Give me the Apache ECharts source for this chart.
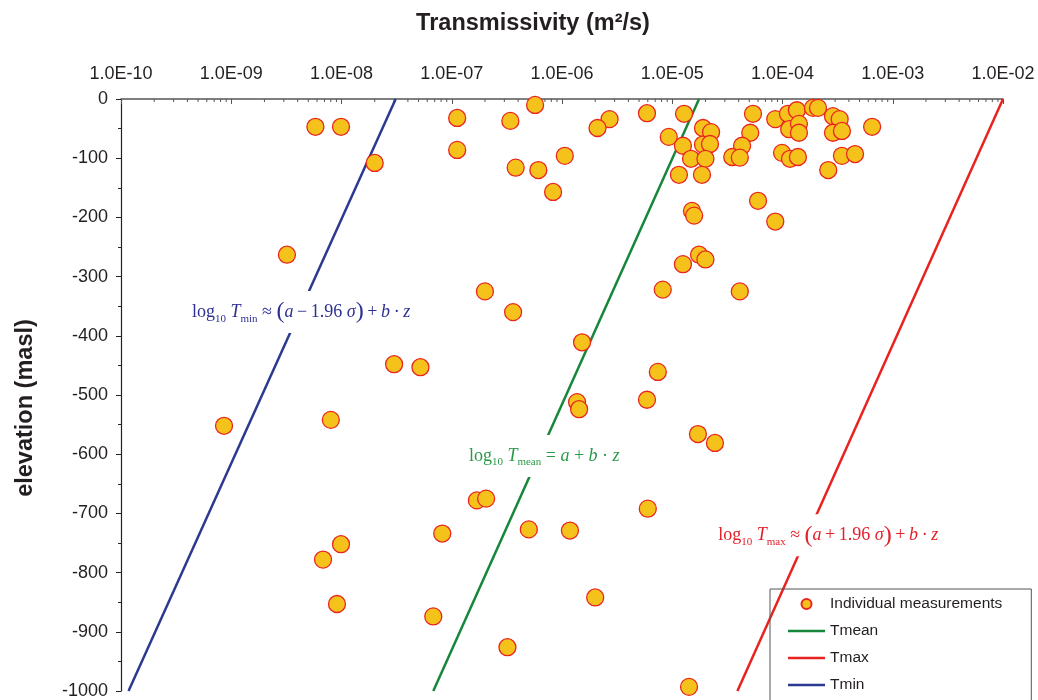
<!DOCTYPE html>
<html>
<head>
<meta charset="utf-8">
<title>Transmissivity vs elevation</title>
<script src="https://cdn.jsdelivr.net/npm/echarts@6/dist/echarts.min.js"></script>
<style>
  html, body { margin: 0; padding: 0; background: #fff; }
  #chart { width: 1038px; height: 700px; }
</style>
</head>
<body>
<div id="chart"></div>
<script>
// Individual measurements: transmissivity (m²/s) and elevation (masl)
const transmissivity = [
  5.8e-9, 9.9e-9, 2.0e-8, 3.2e-9, 1.12e-7, 1.12e-7, 3.4e-7, 5.7e-7, 3.8e-7, 6.1e-7,
  8.3e-7, 1.06e-6, 2.7e-6, 2.1e-6, 5.9e-6, 1.28e-5, 1.9e-5, 2.25e-5, 9.3e-6, 1.25e-5,
  1.9e-5, 2.2e-5, 1.48e-5, 2.0e-5, 1.15e-5, 1.86e-5, 5.4e-5, 8.6e-5, 5.1e-5, 4.3e-5,
  3.5e-5, 4.1e-5, 1.12e-4, 1.35e-4, 1.15e-4, 1.41e-4, 1.41e-4, 1.89e-4, 2.1e-4, 2.87e-4,
  3.3e-4, 2.87e-4, 3.46e-4, 6.5e-4, 9.9e-5, 1.17e-4, 1.38e-4, 3.46e-4, 4.55e-4, 2.6e-4,
  1.51e-5, 1.58e-5, 6.0e-5, 8.6e-5, 1.75e-5, 2.0e-5, 1.25e-5, 8.2e-6, 4.1e-5, 2.0e-7,
  3.6e-7, 1.52e-6, 3.0e-8, 5.2e-8, 8.6e-10, 8.0e-9, 1.37e-6, 1.43e-6, 5.9e-6, 7.4e-6,
  1.71e-5, 2.44e-5, 1.69e-7, 2.05e-7, 8.2e-8, 5.0e-7, 1.18e-6, 9.9e-9, 6.8e-9, 9.1e-9,
  6.8e-8, 3.2e-7, 2.0e-6, 6.0e-6, 1.42e-5
];
const elevation = [
  -47, -47, -108, -263, -32, -86, -37, -10, -116, -120,
  -157, -96, -34, -49, -24, -25, -49, -56, -64, -79,
  -77, -76, -101, -101, -128, -128, -25, -34, -57, -79,
  -98, -99, -25, -19, -51, -42, -57, -15, -15, -29,
  -34, -57, -54, -47, -91, -101, -98, -96, -93, -120,
  -189, -197, -172, -207, -263, -271, -279, -322, -325, -325,
  -360, -411, -448, -453, -552, -542, -512, -524, -508, -461,
  -566, -581, -678, -675, -734, -727, -729, -752, -778, -853,
  -874, -926, -842, -692, -993
];

// Fitted trend lines (T at z = 0 and z = -1000)
const lineElevation = [0, -1000];
const tmeanT = [1.75e-5, 6.8e-8];
const tmaxT  = [1.0e-2, 3.9e-5];
const tminT  = [3.1e-8, 1.17e-10];

// Anchor points [T, z] for the formula annotations
const tminLabelAt  = [4.3e-9, -360];
const tmeanLabelAt = [6.9e-7, -603];
const tmaxLabelAt  = [2.6e-4, -737];

// Axis settings
const xMin = 1e-10, xMax = 1e-2;
const yMin = -1000, yMax = 0, yStep = 100;

const SANS = '"Liberation Sans", Arial, Helvetica, sans-serif';
const SERIF = '"Liberation Serif", "Times New Roman", serif';
const TEXT = '#231f20';
const C_MEAN = '#16873a';
const C_MAX = '#e8231f';
const C_MIN = '#2b3990';
const LINE_ICON = 'path://M0,0 L37,0 L37,2.6 L0,2.6 Z';

const pairs = (xs, ys) => xs.map((x, i) => [x, ys[i]]);

// Log-axis minor tick positions (2..9 within each decade)
const minorTicks = [];
for (let e = -10; e < -2; e++) {
  for (let m = 2; m <= 9; m++) minorTicks.push([m * Math.pow(10, e), 0]);
}

function formulaRich(color) {
  return {
    n: { fontFamily: SERIF, fontSize: 18, lineHeight: 24, color: color },
    i: { fontFamily: SERIF, fontSize: 18, lineHeight: 24, fontStyle: 'italic', color: color },
    s: { fontFamily: SERIF, fontSize: 11, lineHeight: 12, verticalAlign: 'bottom', color: color },
    p: { fontFamily: SERIF, fontSize: 24, lineHeight: 24, color: color }
  };
}

function formulaMark(coord, text, color) {
  return {
    silent: true,
    symbol: 'rect',
    symbolSize: 1,
    itemStyle: { color: 'rgba(0,0,0,0)' },
    label: {
      show: true,
      position: 'inside',
      formatter: text,
      rich: formulaRich(color),
      backgroundColor: '#fff',
      padding: [9, 3]
    },
    data: [{ coord: coord }]
  };
}

function expLabel(v) {
  const e = Math.round(Math.log10(v));
  return '1.0E' + (e < 0 ? '-' : '+') + String(Math.abs(e)).padStart(2, '0');
}

const chart = echarts.init(document.getElementById('chart'), null, { renderer: 'canvas' });

chart.setOption({
  animation: false,
  backgroundColor: '#fff',
  grid: { left: 121, right: 35, top: 99, bottom: 7, containLabel: false },
  xAxis: {
    type: 'log',
    logBase: 10,
    position: 'top',
    min: xMin,
    max: xMax,
    splitNumber: 8,
    axisLine: { show: true, lineStyle: { color: '#555', width: 1.5 } },
    axisTick: { show: true, inside: true, length: 5, lineStyle: { color: '#555', width: 1 } },
    axisLabel: {
      show: true, margin: 16, fontSize: 18, fontFamily: SANS, color: TEXT,
      formatter: expLabel
    },
    splitLine: { show: false }
  },
  yAxis: {
    type: 'value',
    min: yMin,
    max: yMax,
    interval: yStep,
    axisLine: { show: true, lineStyle: { color: '#222', width: 1.2 } },
    axisTick: { show: true, inside: false, length: 5, lineStyle: { color: '#222' } },
    minorTick: { show: true, splitNumber: 2, length: 3, lineStyle: { color: '#222' } },
    axisLabel: {
      margin: 13, fontSize: 18, fontFamily: SANS, color: TEXT,
      formatter: v => String(v)
    },
    splitLine: { show: false }
  },
  legend: {
    orient: 'vertical',
    left: 770,
    top: 589,
    height: 160,
    padding: [7, 29, 14, 18],
    itemGap: 11,
    itemWidth: 37,
    itemHeight: 10,
    borderColor: '#555',
    borderWidth: 1,
    borderRadius: 0,
    textStyle: { fontFamily: SANS, fontSize: 15.5, color: TEXT },
    data: [
      { name: 'Individual measurements', icon: 'circle' },
      { name: 'Tmean', icon: LINE_ICON },
      { name: 'Tmax', icon: LINE_ICON },
      { name: 'Tmin', icon: LINE_ICON }
    ]
  },
  graphic: [
    {
      type: 'text', x: 533, y: 24,
      style: {
        text: 'Transmissivity (m²/s)', fontFamily: SANS, fontWeight: 'bold', fontSize: 23.5,
        fill: TEXT, textAlign: 'center', textVerticalAlign: 'middle'
      }
    },
    {
      type: 'text', x: 26, y: 408, rotation: Math.PI / 2,
      style: {
        text: 'elevation (masl)', fontFamily: SANS, fontWeight: 'bold', fontSize: 23.5,
        fill: TEXT, textAlign: 'center', textVerticalAlign: 'middle'
      }
    }
  ],
  series: [
    {
      name: 'minor ticks',
      type: 'custom',
      silent: true,
      clip: false,
      data: minorTicks,
      encode: { x: 0, y: 1 },
      renderItem: function (params, api) {
        const p = api.coord([api.value(0), api.value(1)]);
        return {
          type: 'line',
          shape: { x1: p[0], y1: p[1], x2: p[0], y2: p[1] + 3 },
          style: { stroke: '#555', lineWidth: 1 }
        };
      }
    },
    {
      name: 'Tmean',
      type: 'line',
      data: pairs(tmeanT, lineElevation),
      symbol: 'none',
      lineStyle: { color: C_MEAN, width: 2.5 },
      itemStyle: { color: C_MEAN },
      z: 2,
      markPoint: formulaMark(tmeanLabelAt,
        '{n|log}{s|10}{n| }{i|T}{s|mean}{n| = }{i|a}{n| + }{i|b}{n| · }{i|z}', '#2a9a48')
    },
    {
      name: 'Tmax',
      type: 'line',
      data: pairs(tmaxT, lineElevation),
      symbol: 'none',
      lineStyle: { color: C_MAX, width: 2.5 },
      itemStyle: { color: C_MAX },
      z: 2,
      markPoint: formulaMark(tmaxLabelAt,
        '{n|log}{s|10}{n| }{i|T}{s|max}{n| ≈ }{p|(}{i|a}{n|\u2009+\u20091.96 }{i|σ}{p|)}{n|\u2009+\u2009}{i|b}{n|\u2009·\u2009}{i|z}', '#e3202a')
    },
    {
      name: 'Tmin',
      type: 'line',
      data: pairs(tminT, lineElevation),
      symbol: 'none',
      lineStyle: { color: C_MIN, width: 2.5 },
      itemStyle: { color: C_MIN },
      z: 2,
      markPoint: formulaMark(tminLabelAt,
        '{n|log}{s|10}{n| }{i|T}{s|min}{n| ≈ }{p|(}{i|a}{n|\u2009−\u20091.96 }{i|σ}{p|)}{n|\u2009+\u2009}{i|b}{n|\u2009·\u2009}{i|z}', '#2e3192')
    },
    {
      name: 'Individual measurements',
      type: 'scatter',
      data: pairs(transmissivity, elevation),
      symbol: 'circle',
      symbolSize: 17,
      itemStyle: { color: '#f5c21c', borderColor: '#e8261f', borderWidth: 1.3, opacity: 1 },
      z: 3
    }
  ]
});
</script>
</body>
</html>
